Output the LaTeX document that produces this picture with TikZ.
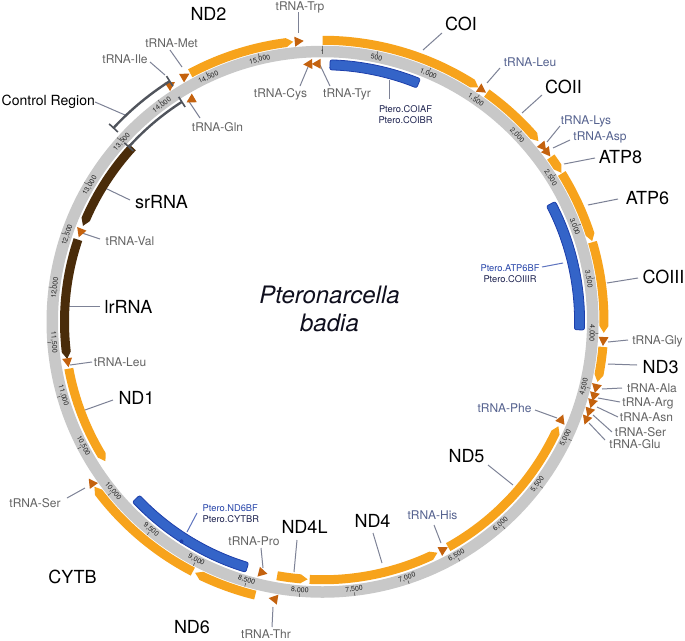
\documentclass[tikz,border=0pt]{standalone}
\usepackage{fontspec}
\setmainfont{TeX Gyre Heros}
\definecolor{ringg}{RGB}{200,200,200}
\definecolor{orng}{RGB}{247,163,28}
\definecolor{trnac}{RGB}{196,98,14}
\definecolor{rrnac}{RGB}{74,44,10}
\definecolor{pfill}{RGB}{52,100,200}
\definecolor{pedge}{RGB}{28,62,170}
\definecolor{leadc}{RGB}{125,130,150}
\definecolor{tgrey}{RGB}{100,100,100}
\definecolor{tblue}{RGB}{85,98,143}
\definecolor{pdark}{RGB}{30,35,80}
\definecolor{pblue}{RGB}{40,70,170}
\definecolor{crc}{RGB}{80,84,92}
\definecolor{spc}{RGB}{15,15,30}
\newcommand\mykk{0.02309913}
\newcommand\mydeg{57.29578}
% forward gene: tip at end
\newcommand\fgene[4]{%
  \pgfmathsetmacro\aS{90-#1*\mykk}%
  \pgfmathsetmacro\aE{90-#2*\mykk}%
  \pgfmathsetmacro\aT{\aE+7/#3*\mydeg}%
  \pgfmathsetmacro\ro{#3+4.5}%
  \pgfmathsetmacro\ri{#3-4.5}%
  \fill[#4] (\aS:\ro pt) arc[start angle=\aS,end angle=\aT,radius=\ro pt] -- (\aE:#3pt) -- (\aT:\ri pt) arc[start angle=\aT,end angle=\aS,radius=\ri pt] -- cycle;}
% reverse gene: tip at start
\newcommand\rgene[4]{%
  \pgfmathsetmacro\aS{90-#1*\mykk}%
  \pgfmathsetmacro\aE{90-#2*\mykk}%
  \pgfmathsetmacro\aT{\aS-7/#3*\mydeg}%
  \pgfmathsetmacro\ro{#3+4.5}%
  \pgfmathsetmacro\ri{#3-4.5}%
  \fill[#4] (\aE:\ro pt) arc[start angle=\aE,end angle=\aT,radius=\ro pt] -- (\aS:#3pt) -- (\aT:\ri pt) arc[start angle=\aT,end angle=\aE,radius=\ri pt] -- cycle;}
\newcommand\ftri[2]{%
  \pgfmathsetmacro\aC{90-#1*\mykk}%
  \pgfmathsetmacro\aB{\aC+4.5/#2*\mydeg}%
  \pgfmathsetmacro\aP{\aC-4.5/#2*\mydeg}%
  \pgfmathsetmacro\ro{#2+5}\pgfmathsetmacro\ri{#2-5}%
  \fill[trnac] (\aB:\ro pt) -- (\aP:#2pt) -- (\aB:\ri pt) -- cycle;}
\newcommand\rtri[2]{%
  \pgfmathsetmacro\aC{90-#1*\mykk}%
  \pgfmathsetmacro\aB{\aC-4.5/#2*\mydeg}%
  \pgfmathsetmacro\aP{\aC+4.5/#2*\mydeg}%
  \pgfmathsetmacro\ro{#2+5}\pgfmathsetmacro\ri{#2-5}%
  \fill[trnac] (\aB:\ro pt) -- (\aP:#2pt) -- (\aB:\ri pt) -- cycle;}
\newcommand\primer[2]{%
  \pgfmathsetmacro\aS{90-#1*\mykk}\pgfmathsetmacro\aE{90-#2*\mykk}%
  \filldraw[fill=pfill,draw=pedge,line width=0.8pt,rounded corners=2pt] (\aS:262pt) arc[start angle=\aS,end angle=\aE,radius=262pt] -- (\aE:252pt) arc[start angle=\aE,end angle=\aS,radius=252pt] -- cycle;}
\newcommand\crbr[3]{%
  \pgfmathsetmacro\aS{90-#1*\mykk}\pgfmathsetmacro\aE{90-#2*\mykk}%
  \pgfmathsetmacro\ro{#3+6}\pgfmathsetmacro\ri{#3-6}%
  \draw[crc,line width=2.4pt] (\aS:#3pt) arc[start angle=\aS,end angle=\aE,radius=#3pt];
  \draw[crc,line width=1.6pt] (\aS:\ri pt) -- (\aS:\ro pt) (\aE:\ri pt) -- (\aE:\ro pt);}
\newcommand\ldr[4][lead]{\coordinate (#2a) at (#3);\coordinate (#2b) at (#4);\draw[#1] (#2a) -- (#2b);}
\tikzset{
 genel/.style={font=\fontsize{18}{20}\selectfont, text=black, inner sep=0pt},
 trl/.style={font=\fontsize{12}{14}\selectfont, text=tgrey, inner sep=0pt},
 trb/.style={trl, text=tblue},
 priml/.style={font=\fontsize{9.3}{11}\selectfont, inner sep=0pt, align=center},
 lead/.style={draw=leadc, line width=1pt},
 bluelead/.style={draw=pblue!75, line width=1pt},
 scl/.style={font=\fontsize{7}{8}\selectfont, text=black!85, inner sep=0pt},
 tickc/.style={draw=black!70, line width=0.5pt},
}
\begin{document}
\begin{tikzpicture}[x=1pt,y=1pt]
\fill[white] (0,0) rectangle (685,-640);
\useasboundingbox (0,0) rectangle (685,-640);
% leaders
\ldr{lTrp}{298,-12}{298,-33}
\ldr{lMet}{170,-50}{182,-67}
\ldr{lIle}{150,-62}{165,-75}
\ldr{lCR}{95,-102}{125,-115}
\ldr{lCys}{300,-86}{308,-67}
\ldr{lTyr}{330,-86}{320,-65}
\ldr{lGln}{200,-118}{188,-100}
\ldr{lsr}{130,-200}{105,-188}
\ldr{lCOI}{442,-33}{423,-50}
\ldr{lLeuB}{500,-68}{487,-83}
\ldr{lCOII}{542,-95}{522,-113}
\ldr{lLys}{560,-126}{547,-142}
\ldr{lAsp}{570,-140}{553,-148}
\ldr{lATPe}{595,-158}{564,-164}
\ldr{lATPs}{618,-199}{588,-205}
\ldr{lPa}{389,-80}{389,-99}
\ldr{lCOIII}{638,-278}{607,-283}
\ldr[bluelead]{lPb}{542,-267}{563,-263}
\ldr{lGly}{628,-340}{608,-342}
\ldr{lNDt}{637,-365}{608,-364}
\ldr{lAla}{622,-388}{602,-389}
\ldr{lArg}{620,-402}{598,-398}
\ldr{lAsn}{618,-417}{597,-407}
\ldr{lSerA}{612,-432}{593,-415}
\ldr{lGlu}{605,-440}{589,-423}
\ldr{lPhe}{535,-410}{557,-418}
\ldr{lNDf}{488,-465}{513,-485}
\ldr{lHis}{434,-525}{441,-543}
\ldr{lNDq}{373,-533}{382,-563}
\ldr{lNDql}{297,-540}{294,-572}
\ldr{lPro}{261,-548}{263,-568}
\ldr{lThr}{272,-627}{273,-607}
\ldr{lSerB}{67,-498}{85,-488}
\ldr[bluelead]{lPc}{197,-513}{187,-532}
\ldr{lNDo}{113,-400}{85,-410}
\ldr{llr}{100,-306}{68,-306}
\ldr{lLeuA}{92,-362}{70,-365}
\ldr{lVal}{100,-239}{82,-233}
\begin{scope}[shift={(322.5,-321.75)}]
\draw[ringg,line width=11.5pt] (0,0) circle[radius=270.25pt];
% forward genes
\fgene{14370}{15325}{281.5}{orng}
\fgene{0}{1455}{281.5}{orng}
\fgene{1545}{2168}{281.5}{orng}
\fgene{2346}{2513}{281.5}{orng}
\fgene{2520}{3175}{281.5}{orng}
\fgene{3185}{3994}{281.5}{orng}
\fgene{4118}{4429}{281.5}{orng}
\fgene{8390}{8956}{281.5}{orng}
\fgene{8979}{10134}{281.5}{orng}
% reverse genes
\rgene{4930}{6530}{258}{orng}
\rgene{6646}{7915}{258}{orng}
\rgene{7935}{8230}{258}{orng}
\rgene{10271}{11234}{258}{orng}
\rgene{11329}{12491}{258}{rrnac}
\rgene{12632}{13530}{258}{rrnac}
% tRNAs
\ftri{14175}{281.5}\ftri{14322}{281.5}\ftri{15378}{281.5}\ftri{1498}{281.5}
\ftri{2238}{281.5}\ftri{2299}{281.5}\ftri{4070}{281.5}\ftri{4490}{281.5}
\ftri{4566}{281.5}\ftri{4630}{281.5}\ftri{4710}{281.5}\ftri{4784}{281.5}
\ftri{8229}{281.5}\ftri{10182}{281.5}
\rtri{14250}{258}\rtri{15441}{258}\rtri{15522}{258}\rtri{4851}{258}
\rtri{6577}{258}\rtri{8368}{258}\rtri{11292}{258}\rtri{12558}{258}
% primers
\primer{72}{950}
\primer{2713}{3974}
\primer{8529}{9805}
\fill[pedge] (237.3:261pt) circle[radius=2pt];
% control region
\crbr{13542}{14180}{285}
\crbr{13509}{14172}{261}
% scale
\foreach \p/\lbl in {1/1,500/500,1000/{1,000},1500/{1,500},2000/{2,000},2500/{2,500},3000/{3,000},3500/{3,500},4000/{4,000},4500/{4,500},5000/{5,000},5500/{5,500},6000/{6,000},6500/{6,500},7000/{7,000},7500/{7,500},8000/{8,000},8500/{8,500},9000/{9,000},9500/{9,500},10000/{10,000},10500/{10,500},11000/{11,000},11500/{11,500},12000/{12,000},12500/{12,500},13000/{13,000},13500/{13,500},14000/{14,000},14500/{14,500},15000/{15,000}}{
  \pgfmathsetmacro\thv{\p*\mykk}
  \pgfmathsetmacro\sa{90-\thv}
  \pgfmathsetmacro\rot{and(\thv>95,\thv<272) ? 180-\thv : -\thv}
  \node[scl,rotate=\rot] (s\p) at (\sa:269.5pt) {\lbl};
  \draw[tickc] (\sa:272.5pt) -- (\sa:276pt);
}
\end{scope}
% gene labels
\node[genel,anchor=base] (tND2) at (208.5,-20) {ND2};
\node[genel,anchor=base] (tCOI) at (461,-30) {COI};
\node[genel,anchor=base] (tCOII) at (563.5,-93) {COII};
\node[genel,anchor=base] (tATP8) at (620.5,-163) {ATP8};
\node[genel,anchor=base] (tATP6) at (647.5,-204) {ATP6};
\node[genel,anchor=base] (tCOIII) at (663.5,-283) {COIII};
\node[genel,anchor=base] (tND3) at (660.5,-373) {ND3};
\node[genel,anchor=base] (tND5) at (466.5,-462) {ND5};
\node[genel,anchor=base] (tND4) at (372.5,-527) {ND4};
\node[genel,anchor=base] (tND4L) at (304.5,-533) {ND4L};
\node[genel,anchor=base] (tND6) at (192,-633) {ND6};
\node[genel,anchor=base] (tCYTB) at (72.5,-583) {CYTB};
\node[genel,anchor=base] (tND1) at (136.5,-404) {ND1};
\node[genel,anchor=base] (tlrRNA) at (128.5,-313) {lrRNA};
\node[genel,anchor=base] (tsrRNA) at (161.5,-208) {srRNA};
\node[genel,font=\fontsize{14}{16}\selectfont,anchor=base west] (tCR) at (1.5,-105) {Control Region};
% tRNA labels
\node[trl,anchor=base] (tTrp) at (300,-10.3) {tRNA-Trp};
\node[trl,anchor=base] (tMet) at (171.5,-47) {tRNA-Met};
\node[trl,anchor=base] (tIle) at (125,-63) {tRNA-Ile};
\node[trl,anchor=base] (tCys) at (280.5,-97) {tRNA-Cys};
\node[trl,anchor=base] (tTyr) at (347,-97) {tRNA-Tyr};
\node[trl,anchor=base] (tGln) at (217.5,-131) {tRNA-Gln};
\node[trb,anchor=base] (tLeuB) at (530,-66) {tRNA-Leu};
\node[trb,anchor=base] (tLys) at (586,-124) {tRNA-Lys};
\node[trb,anchor=base] (tAsp) at (600,-140) {tRNA-Asp};
\node[trl,anchor=base] (tGly) at (657.5,-344) {tRNA-Gly};
\node[trl,anchor=base] (tAla) at (652,-392) {tRNA-Ala};
\node[trl,anchor=base] (tArg) at (648,-406) {tRNA-Arg};
\node[trl,anchor=base] (tAsn) at (646.5,-421) {tRNA-Asn};
\node[trl,anchor=base] (tSerA) at (640.5,-436) {tRNA-Ser};
\node[trl,anchor=base] (tGlu) at (635,-448) {tRNA-Glu};
\node[trb,anchor=base] (tPhe) at (504.5,-412) {tRNA-Phe};
\node[trb,anchor=base] (tHis) at (432.5,-519) {tRNA-His};
\node[trl,anchor=base] (tPro) at (254,-545) {tRNA-Pro};
\node[trl,anchor=base] (tThr) at (266,-638) {tRNA-Thr};
\node[trl,anchor=base] (tSerB) at (35,-507) {tRNA-Ser};
\node[trl,anchor=base] (tLeuA) at (120,-366) {tRNA-Leu};
\node[trl,anchor=base] (tVal) at (130,-245) {tRNA-Val};
% primer labels
\node[priml,text=pdark] (tPa) at (405.5,-114.2) {Ptero.COIAF\\Ptero.COIBR};
\node[priml] (tPb) at (510,-273.2) {\textcolor{pblue}{Ptero.ATP6BF}\\\textcolor{pdark}{Ptero.COIIIR}};
\node[priml,align=left,anchor=west] (tPc) at (202.5,-513.2) {\textcolor{pblue}{Ptero.ND6BF}\\\textcolor{pdark}{Ptero.CYTBR}};
% species
\node[font=\fontsize{24}{28}\selectfont\itshape, align=center, inner sep=0pt, text=spc] (tSp) at (329.5,-308.5) {Pteronarcella\\badia};
\end{tikzpicture}
\end{document}
